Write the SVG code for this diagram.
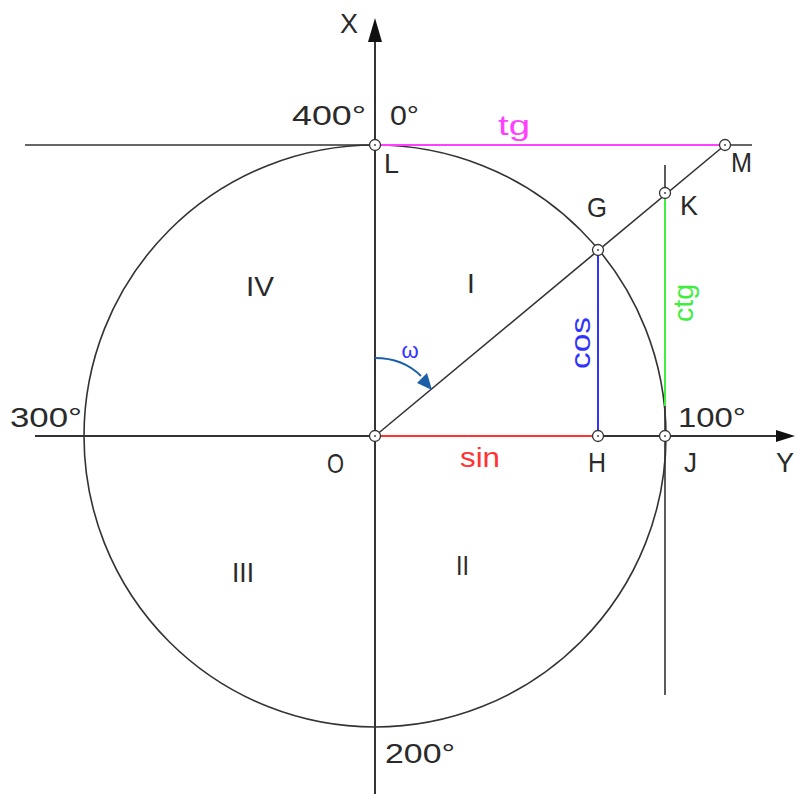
<svg xmlns="http://www.w3.org/2000/svg" width="795" height="794" viewBox="0 0 795 794">
<style>
.ln{stroke:#333;stroke-width:1.6;fill:none}
.ax{stroke:#333;stroke-width:2;fill:none}
.pt{fill:#fff;stroke:#333;stroke-width:1.3}
.dot{fill:#333}
text{font-family:"Liberation Sans",Arial,sans-serif;font-size:28px;fill:#2a2a2a}
.mag{fill:#ff40ff}.grn{fill:#40ee40}.blu{fill:#3333ff}.red{fill:#ff3333}
</style>
<rect width="795" height="794" fill="#fff"/>
<g id="connectors">
  <circle class="ln" cx="375" cy="436" r="291"/>
  <line class="ax" x1="375" y1="40" x2="375" y2="794"/>
  <polygon points="375,18 382,42 368,42" fill="#111"/>
  <line class="ax" x1="35" y1="436" x2="778" y2="436"/>
  <polygon points="795,436 776,430 776,442" fill="#111"/>
  <line class="ln" x1="25" y1="145" x2="752" y2="145"/>
  <line class="ln" x1="665" y1="165" x2="665" y2="695"/>
  <line class="ln" x1="375" y1="436" x2="725" y2="145"/>
  <line stroke="#ff40ff" stroke-width="2" x1="380" y1="145" x2="720" y2="145"/>
  <line stroke="#40ee40" stroke-width="2" x1="665" y1="198" x2="665" y2="406"/>
  <line stroke="#3333ff" stroke-width="2" x1="598" y1="255" x2="598" y2="431"/>
  <line stroke="#ff3333" stroke-width="2" x1="380" y1="436" x2="593" y2="436"/>
  <path d="M375,358 C395,358 410,365 421,376" stroke="#1a5fa8" stroke-width="1.8" fill="none"/>
  <polygon points="432,390 417,383 427,373" fill="#1a5fa8"/>
</g>
<g id="node-O"><circle class="pt" cx="375" cy="436" r="5.5"/><circle class="dot" cx="375" cy="436" r="0.9"/></g>
<g id="node-L"><circle class="pt" cx="375" cy="145" r="5.5"/><circle class="dot" cx="375" cy="145" r="0.9"/></g>
<g id="node-G"><circle class="pt" cx="598" cy="250" r="5.5"/><circle class="dot" cx="598" cy="250" r="0.9"/></g>
<g id="node-K"><circle class="pt" cx="665" cy="193" r="5.5"/><circle class="dot" cx="665" cy="193" r="0.9"/></g>
<g id="node-M"><circle class="pt" cx="725" cy="145" r="5.5"/><circle class="dot" cx="725" cy="145" r="0.9"/></g>
<g id="node-H"><circle class="pt" cx="598" cy="436" r="5.5"/><circle class="dot" cx="598" cy="436" r="0.9"/></g>
<g id="node-J"><circle class="pt" cx="665" cy="436" r="5.5"/><circle class="dot" cx="665" cy="436" r="0.9"/></g>
<g id="labels">
  <text x="340" y="33" textLength="18" lengthAdjust="spacingAndGlyphs">X</text>
  <text x="292" y="125" textLength="74" lengthAdjust="spacingAndGlyphs">400°</text>
  <text x="390" y="125" textLength="29" lengthAdjust="spacingAndGlyphs">0°</text>
  <text class="mag" x="498" y="135" textLength="32" lengthAdjust="spacingAndGlyphs">tg</text>
  <text x="384" y="173" textLength="15" lengthAdjust="spacingAndGlyphs">L</text>
  <text x="731" y="172" textLength="21" lengthAdjust="spacingAndGlyphs">M</text>
  <text x="587" y="217" textLength="20" lengthAdjust="spacingAndGlyphs">G</text>
  <text x="680" y="215" textLength="18" lengthAdjust="spacingAndGlyphs">K</text>
  <text x="246" y="296" textLength="28" lengthAdjust="spacingAndGlyphs">IV</text>
  <text x="467" y="293">I</text>
  <text class="blu" transform="translate(590,343) rotate(-90)" text-anchor="middle" textLength="52" lengthAdjust="spacingAndGlyphs">cos</text>
  <text class="grn" transform="translate(693,303) rotate(-90)" text-anchor="middle" textLength="38" lengthAdjust="spacingAndGlyphs">ctg</text>
  <text class="blu" x="410" y="358" text-anchor="middle" style="font-size:22px">ω</text>
  <text x="10" y="427" textLength="72" lengthAdjust="spacingAndGlyphs">300°</text>
  <text x="678" y="427" textLength="68" lengthAdjust="spacingAndGlyphs">100°</text>
  <text x="327" y="473" textLength="17" lengthAdjust="spacingAndGlyphs">O</text>
  <text class="red" x="460" y="467" textLength="40" lengthAdjust="spacingAndGlyphs">sin</text>
  <text x="588" y="472" textLength="18" lengthAdjust="spacingAndGlyphs">H</text>
  <text x="684" y="472" textLength="13" lengthAdjust="spacingAndGlyphs">J</text>
  <text x="776" y="472" textLength="18" lengthAdjust="spacingAndGlyphs">Y</text>
  <text x="232" y="582" textLength="22" lengthAdjust="spacingAndGlyphs">III</text>
  <text x="456" y="575" textLength="13" lengthAdjust="spacingAndGlyphs">II</text>
  <text x="385" y="763" textLength="70" lengthAdjust="spacingAndGlyphs">200°</text>
</g>
</svg>
